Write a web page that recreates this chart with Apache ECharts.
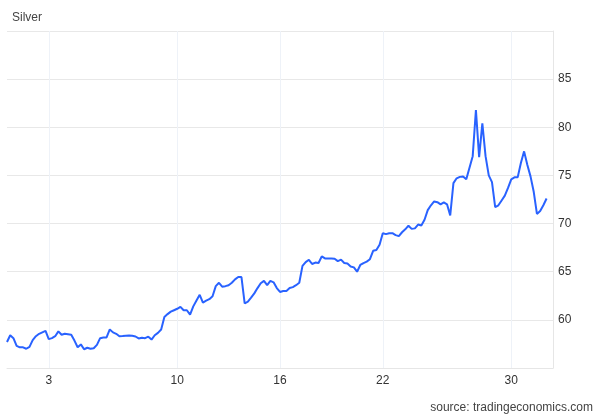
<!DOCTYPE html>
<html><head><meta charset="utf-8">
<script src="https://cdn.jsdelivr.net/npm/echarts@6/dist/echarts.min.js"></script>
<style>html,body{margin:0;padding:0;background:#fff}#c{width:602px;height:417px}</style>
</head><body><div id="c"></div>
<script>
// Trading days of December shown on the chart (3-hour slots per day)
const tradingDays = ['1','2','3','4','5','8','9','10','11','12','15','16','17','18','19','22','23','24','26','29','30','31'];
const slotHours = ['00','03','06','09','12','15','18','21'];
const tickLabels = ['3','10','16','22','30'];
const yTicks = [60, 65, 70, 75, 80, 85];
// Silver price (USD/oz), one value per 3-hour slot starting Dec 1 09:00
const silver = [
57.7,58.4,58.1,57.3,57.15,57.15,57.0,57.2,57.9,58.3,
58.55,58.7,58.85,58.0,58.1,58.3,58.8,58.45,58.55,58.5,
58.45,57.85,57.15,57.45,56.95,57.1,57.0,57.05,57.4,58.1,
58.17,58.17,59.0,58.7,58.55,58.3,58.32,58.35,58.38,58.35,
58.27,58.07,58.15,58.1,58.25,57.95,58.4,58.65,59.0,60.3,
60.6,60.85,61.0,61.15,61.35,61.0,61.0,60.55,61.4,62.0,
62.6,61.8,62.0,62.15,62.45,63.5,63.85,63.45,63.5,63.6,
63.85,64.2,64.45,64.45,61.7,61.9,62.3,62.75,63.3,63.8,
64.05,63.6,64.05,63.9,63.3,62.9,63.0,63.0,63.3,63.4,
63.6,63.85,65.6,66.0,66.24,65.8,65.95,65.9,66.6,66.38,
66.38,66.38,66.35,66.1,66.25,65.9,65.85,65.55,65.45,65.0,
65.7,65.9,66.05,66.3,67.17,67.25,67.8,69.0,68.9,69.0,
69.0,68.8,68.7,69.1,69.4,69.78,69.45,69.5,69.9,69.8,
70.4,71.4,71.9,72.3,72.22,72.0,72.2,72.0,70.85,74.2,
74.7,74.85,74.9,74.6,75.8,77.0,81.8,76.9,80.4,77.0,
75.0,74.3,71.7,71.9,72.4,72.9,73.7,74.6,74.8,74.8,
76.3,77.5,76.1,74.9,73.3,71.0,71.3,71.9,72.6
];

const allSlots = [];
tradingDays.forEach(d => slotHours.forEach(h => allSlots.push('Dec ' + d + ' ' + h + ':00')));
const categories = allSlots.slice(3, 174);
function isTick(i) {
  const p = categories[i].split(' ');
  return p[2] === '00:00' && tickLabels.indexOf(p[1]) >= 0;
}

const FONT = '"Liberation Sans", Arial, sans-serif';
const chart = echarts.init(document.getElementById('c'), null, {renderer: 'canvas'});
chart.setOption({
  animation: false,
  backgroundColor: '#ffffff',
  textStyle: {fontFamily: FONT},
  title: [
    {text: 'Silver', left: 7, top: 7, textStyle: {fontSize: 12, fontWeight: 'normal', color: '#444', fontFamily: FONT}},
    {text: 'source: tradingeconomics.com', right: 4, top: 397, textStyle: {fontSize: 12, fontWeight: 'normal', color: '#444', fontFamily: FONT}}
  ],
  grid: {left: 7, right: 49, top: 31, bottom: 49, containLabel: false},
  xAxis: {
    type: 'category',
    data: categories,
    boundaryGap: false,
    axisLine: {show: true, lineStyle: {color: '#e6e6e6', width: 1}},
    axisTick: {show: false},
    axisLabel: {
      interval: (i) => isTick(i),
      formatter: (v) => v.split(' ')[1],
      color: '#333', fontSize: 12, margin: 7
    },
    splitLine: {show: true, interval: (i) => isTick(i), lineStyle: {color: '#eef2f8', width: 1}}
  },
  yAxis: {
    type: 'value',
    position: 'right',
    min: 55, max: 90, interval: 5,
    axisLine: {show: true, lineStyle: {color: '#e6e6e6', width: 1}},
    axisTick: {show: false},
    axisLabel: {
      color: '#333', fontSize: 12, margin: 5,
      formatter: (v) => (yTicks.indexOf(v) >= 0 ? String(v) : '')
    },
    splitLine: {show: true, lineStyle: {color: '#e8e8e8', width: 1}}
  },
  series: [{
    type: 'line',
    data: silver,
    showSymbol: false,
    symbol: 'none',
    lineStyle: {color: '#2962ff', width: 2},
    itemStyle: {color: '#2962ff'}
  }]
});
</script>
</body></html>
